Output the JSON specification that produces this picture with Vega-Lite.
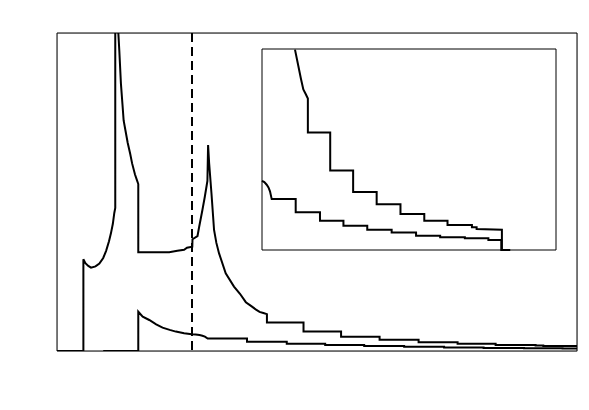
{
  "$schema": "https://vega.github.io/schema/vega-lite/v6.json",
  "autosize": {"type": "none"},
  "padding": {"left": 57, "top": 33, "right": 12, "bottom": 59},
  "width": 520,
  "height": 318,
  "data": {"values": [
      {"s": "a", "i": 1, "E": -14, "D": 0},
      {"s": "a", "i": 2, "E": -11.26, "D": 0},
      {"s": "a", "i": 3, "E": -11.26, "D": 0.0577},
      {"s": "a", "i": 4, "E": -11.05, "D": 0.0552},
      {"s": "a", "i": 5, "E": -10.75, "D": 0.0535},
      {"s": "a", "i": 6, "E": -10.47, "D": 0.0524},
      {"s": "a", "i": 7, "E": -10.0, "D": 0.0532},
      {"s": "a", "i": 8, "E": -9.6, "D": 0.055},
      {"s": "a", "i": 9, "E": -9.2, "D": 0.0585},
      {"s": "a", "i": 10, "E": -8.9, "D": 0.063},
      {"s": "a", "i": 11, "E": -8.6, "D": 0.069},
      {"s": "a", "i": 12, "E": -8.4, "D": 0.074},
      {"s": "a", "i": 13, "E": -8.2, "D": 0.08},
      {"s": "a", "i": 14, "E": -8.05, "D": 0.0868},
      {"s": "a", "i": 15, "E": -7.95, "D": 0.09},
      {"s": "a", "i": 16, "E": -7.95, "D": 0.5},
      {"s": "a", "i": 17, "E": -7.75, "D": 0.3},
      {"s": "a", "i": 18, "E": -7.63, "D": 0.2},
      {"s": "a", "i": 19, "E": -7.53, "D": 0.189},
      {"s": "a", "i": 20, "E": -7.36, "D": 0.168},
      {"s": "a", "i": 21, "E": -7.2, "D": 0.155},
      {"s": "a", "i": 22, "E": -7.08, "D": 0.145},
      {"s": "a", "i": 23, "E": -6.9, "D": 0.139},
      {"s": "a", "i": 24, "E": -6.66, "D": 0.131},
      {"s": "a", "i": 25, "E": -6.4, "D": 0.124},
      {"s": "a", "i": 26, "E": -6.2, "D": 0.118},
      {"s": "a", "i": 27, "E": -5.9, "D": 0.111},
      {"s": "a", "i": 28, "E": -5.7, "D": 0.1075},
      {"s": "a", "i": 29, "E": -5.56, "D": 0.105},
      {"s": "a", "i": 30, "E": -5.56, "D": 0.0621},
      {"s": "a", "i": 31, "E": -2.35, "D": 0.0621},
      {"s": "a", "i": 32, "E": -1.5, "D": 0.063},
      {"s": "a", "i": 33, "E": -0.8, "D": 0.0637},
      {"s": "a", "i": 34, "E": -0.5, "D": 0.065},
      {"s": "a", "i": 35, "E": 0.05, "D": 0.0656},
      {"s": "a", "i": 36, "E": 0.07, "D": 0.0703},
      {"s": "a", "i": 37, "E": 0.59, "D": 0.0723},
      {"s": "a", "i": 38, "E": 0.76, "D": 0.078},
      {"s": "a", "i": 39, "E": 1.1, "D": 0.0887},
      {"s": "a", "i": 40, "E": 1.35, "D": 0.097},
      {"s": "a", "i": 41, "E": 1.55, "D": 0.1044},
      {"s": "a", "i": 42, "E": 1.62, "D": 0.107},
      {"s": "a", "i": 43, "E": 1.69, "D": 0.1296},
      {"s": "a", "i": 44, "E": 1.8, "D": 0.118},
      {"s": "a", "i": 45, "E": 2.04, "D": 0.0992},
      {"s": "a", "i": 46, "E": 2.31, "D": 0.0761},
      {"s": "a", "i": 47, "E": 2.55, "D": 0.068},
      {"s": "a", "i": 48, "E": 2.83, "D": 0.0614},
      {"s": "a", "i": 49, "E": 3.52, "D": 0.0489},
      {"s": "a", "i": 50, "E": 4.38, "D": 0.0405},
      {"s": "a", "i": 51, "E": 5.0, "D": 0.036},
      {"s": "a", "i": 52, "E": 5.61, "D": 0.0307},
      {"s": "a", "i": 53, "E": 6.18, "D": 0.0282},
      {"s": "a", "i": 54, "E": 6.63, "D": 0.0262},
      {"s": "a", "i": 55, "E": 7.03, "D": 0.0246},
      {"s": "a", "i": 56, "E": 7.43, "D": 0.0239},
      {"s": "a", "i": 57, "E": 7.8, "D": 0.0232},
      {"s": "a", "i": 58, "E": 7.8, "D": 0.018},
      {"s": "a", "i": 59, "E": 11.6, "D": 0.018},
      {"s": "a", "i": 60, "E": 11.6, "D": 0.0122},
      {"s": "a", "i": 61, "E": 15.5, "D": 0.0122},
      {"s": "a", "i": 62, "E": 15.5, "D": 0.0089},
      {"s": "a", "i": 63, "E": 19.5, "D": 0.0089},
      {"s": "a", "i": 64, "E": 19.5, "D": 0.007},
      {"s": "a", "i": 65, "E": 23.55, "D": 0.007},
      {"s": "a", "i": 66, "E": 23.55, "D": 0.0055},
      {"s": "a", "i": 67, "E": 27.6, "D": 0.0055},
      {"s": "a", "i": 68, "E": 27.6, "D": 0.0045},
      {"s": "a", "i": 69, "E": 31.55, "D": 0.0045},
      {"s": "a", "i": 70, "E": 31.55, "D": 0.00385},
      {"s": "a", "i": 71, "E": 35.7, "D": 0.00385},
      {"s": "a", "i": 72, "E": 35.7, "D": 0.0035},
      {"s": "a", "i": 73, "E": 36.5, "D": 0.0035},
      {"s": "a", "i": 74, "E": 36.5, "D": 0.0032},
      {"s": "a", "i": 75, "E": 40.8, "D": 0.0031},
      {"s": "a", "i": 76, "E": 40.8, "D": 0},
      {"s": "a", "i": 77, "E": 42.2, "D": 0},
      {"s": "b", "i": 1, "E": -9.2, "D": 0},
      {"s": "b", "i": 2, "E": -5.56, "D": 0},
      {"s": "b", "i": 3, "E": -5.56, "D": 0.0247},
      {"s": "b", "i": 4, "E": -5.1, "D": 0.0216},
      {"s": "b", "i": 5, "E": -4.42, "D": 0.0195},
      {"s": "b", "i": 6, "E": -3.7, "D": 0.0168},
      {"s": "b", "i": 7, "E": -3.04, "D": 0.0147},
      {"s": "b", "i": 8, "E": -2.3, "D": 0.0133},
      {"s": "b", "i": 9, "E": -1.66, "D": 0.0122},
      {"s": "b", "i": 10, "E": -0.8, "D": 0.0112},
      {"s": "b", "i": 11, "E": 0, "D": 0.0106},
      {"s": "b", "i": 12, "E": 0.4, "D": 0.0104},
      {"s": "b", "i": 13, "E": 0.8, "D": 0.01},
      {"s": "b", "i": 14, "E": 1.1, "D": 0.0096},
      {"s": "b", "i": 15, "E": 1.36, "D": 0.009},
      {"s": "b", "i": 16, "E": 1.65, "D": 0.0078},
      {"s": "b", "i": 17, "E": 5.73, "D": 0.0078},
      {"s": "b", "i": 18, "E": 5.73, "D": 0.0058},
      {"s": "b", "i": 19, "E": 9.86, "D": 0.0058},
      {"s": "b", "i": 20, "E": 9.86, "D": 0.0045},
      {"s": "b", "i": 21, "E": 13.85, "D": 0.0045},
      {"s": "b", "i": 22, "E": 13.85, "D": 0.0037},
      {"s": "b", "i": 23, "E": 17.9, "D": 0.0037},
      {"s": "b", "i": 24, "E": 17.9, "D": 0.0031},
      {"s": "b", "i": 25, "E": 22.05, "D": 0.0031},
      {"s": "b", "i": 26, "E": 22.05, "D": 0.0027},
      {"s": "b", "i": 27, "E": 26.2, "D": 0.0027},
      {"s": "b", "i": 28, "E": 26.2, "D": 0.0022},
      {"s": "b", "i": 29, "E": 30.3, "D": 0.0022},
      {"s": "b", "i": 30, "E": 30.3, "D": 0.00195},
      {"s": "b", "i": 31, "E": 34.5, "D": 0.00195},
      {"s": "b", "i": 32, "E": 34.5, "D": 0.0018},
      {"s": "b", "i": 33, "E": 38.5, "D": 0.0018},
      {"s": "b", "i": 34, "E": 38.5, "D": 0.00155},
      {"s": "b", "i": 35, "E": 40.7, "D": 0.00155},
      {"s": "b", "i": 36, "E": 40.7, "D": 0},
      {"s": "b", "i": 37, "E": 42.2, "D": 0}
  ]},
  "layer": [
    {
      "layer": [
        {
          "mark": {"type": "line", "color": "black", "strokeWidth": 2, "clip": true},
          "encoding": {
            "x": {"field": "E", "type": "quantitative",
              "scale": {"domain": [-14, 40], "nice": false},
              "axis": {"orient": "bottom",
                "values": [-12, -10, -8, -6, -4, -2, 0, 2, 4, 6, 8, 10, 12, 14, 16, 18, 20, 22, 24, 26, 28, 30, 32, 34, 36, 38, 40],
                "ticks": false, "domainColor": "black",
                "grid": true, "gridColor": "black", "gridOpacity": 1, "gridWidth": 1,
                "gridDash": {"condition": {"test": "datum.value % 10 !== 0", "value": [4, 310, 4, 0]}, "value": [8, 302, 8, 0]},
                "labelExpr": "datum.value % 10 === 0 ? format(datum.value, 'd') : ''",
                "labelFont": "Liberation Serif", "labelFontSize": 23, "labelColor": "black", "labelPadding": 8, "labelFlush": false,
                "title": "Energy, arb. un.", "titleFont": "Liberation Serif", "titleFontSize": 23, "titleFontWeight": "normal", "titleColor": "black",
                "titleX": 529, "titleY": 52, "titleAlign": "right", "titleBaseline": "alphabetic"}},
            "y": {"field": "D", "type": "quantitative",
              "scale": {"domain": [0, 0.2], "nice": false},
              "axis": {"orient": "left",
                "values": [0, 0.01, 0.02, 0.03, 0.04, 0.05, 0.06, 0.07, 0.08, 0.09, 0.1, 0.11, 0.12, 0.13, 0.14, 0.15, 0.16, 0.17, 0.18, 0.19, 0.2],
                "ticks": false, "domainColor": "black",
                "grid": true, "gridColor": "black", "gridOpacity": 1, "gridWidth": 1,
                "gridDash": {"condition": {"test": "round(datum.value * 100) % 5 !== 0", "value": [4, 512, 4, 0]}, "value": [8, 504, 8, 0]},
                "labelExpr": "datum.value === 0 ? '0' : (round(datum.value * 100) % 5 === 0 ? format(datum.value, '.2f') : '')",
                "labelBaseline": {"condition": {"test": "datum.value > 0.19", "value": "top"}, "value": "middle"},
                "labelFont": "Liberation Serif", "labelFontSize": 23, "labelColor": "black", "labelPadding": 7,
                "title": "DOS, arb. un.", "titleFont": "Liberation Serif", "titleFontSize": 23, "titleFontWeight": "normal", "titleColor": "black",
                "titleAngle": 0, "titleX": -38, "titleY": -12, "titleAlign": "left", "titleBaseline": "alphabetic"}},
            "detail": {"field": "s"},
            "order": {"field": "i"}
          }
        },
        {
          "mark": {"type": "rule", "color": "black", "strokeWidth": 1, "strokeDash": [9, 5]},
          "encoding": {
            "x": {"datum": 0, "type": "quantitative", "scale": {"domain": [-14, 40], "nice": false}, "axis": null}
          }
        },
        {
          "data": {"values": [{"frame": "main"}]},
          "mark": {"type": "rect", "filled": false, "stroke": "black", "strokeWidth": 1},
          "encoding": {
            "x": {"datum": -14, "type": "quantitative", "scale": {"domain": [-14, 40], "nice": false}, "axis": null},
            "x2": {"datum": 40},
            "y": {"datum": 0, "type": "quantitative", "scale": {"domain": [0, 0.2], "nice": false}, "axis": null},
            "y2": {"datum": 0.2}
          }
        }
      ]
    },
    {
      "layer": [
        {
          "transform": [{"filter": "datum.E >= 0 && datum.D <= 0.031"}],
          "mark": {"type": "line", "color": "black", "strokeWidth": 2},
          "encoding": {
            "x": {"field": "E", "type": "quantitative",
              "scale": {"domain": [0, 50], "range": [205, 499], "nice": false},
              "axis": {"orient": "bottom", "offset": -101,
                "values": [0, 1.6667, 3.3333, 5, 6.6667, 8.3333, 10, 11.6667, 13.3333, 15, 16.6667, 18.3333, 20, 21.6667, 23.3333, 25, 26.6667, 28.3333, 30, 31.6667, 33.3333, 35, 36.6667, 38.3333, 40, 41.6667, 43.3333, 45, 46.6667, 48.3333, 50],
                "ticks": false, "domainColor": "black",
                "grid": true, "gridColor": "black", "gridOpacity": 1, "gridWidth": 1,
                "gridDash": {"condition": {"test": "datum.value % 10 !== 0", "value": [3, 195, 3, 0]}, "value": [6, 189, 6, 0]},
                "labelExpr": "datum.value % 10 === 0 ? format(datum.value, 'd') : ''",
                "labelFont": "Liberation Serif", "labelFontSize": 20, "labelColor": "black", "labelPadding": 1, "labelFlush": false, "title": null}},
            "y": {"field": "D", "type": "quantitative",
              "scale": {"domain": [0, 0.0308], "range": [217, 16], "nice": false},
              "axis": {"orient": "left", "offset": -205,
                "values": [0.001, 0.002, 0.003, 0.004, 0.005, 0.006, 0.007, 0.008, 0.009, 0.01, 0.011, 0.012, 0.013, 0.014, 0.015, 0.016, 0.017, 0.018, 0.019, 0.02, 0.021, 0.022, 0.023, 0.024, 0.025, 0.026, 0.027, 0.028, 0.029, 0.03],
                "ticks": false, "domainColor": "black",
                "grid": true, "gridColor": "black", "gridOpacity": 1, "gridWidth": 1,
                "gridDash": {"condition": {"test": "round(datum.value * 1000) % 10 !== 0", "value": [3, 288, 3, 0]}, "value": [6, 282, 6, 0]},
                "labelExpr": "round(datum.value * 1000) % 10 === 0 ? format(datum.value, '.2f') : ''",
                "labelFont": "Liberation Serif", "labelFontSize": 20, "labelColor": "black", "labelPadding": 5, "title": null}},
            "detail": {"field": "s"},
            "order": {"field": "i"}
          }
        },
        {
          "data": {"values": [{"frame": "inset"}]},
          "mark": {"type": "rect", "filled": false, "stroke": "black", "strokeWidth": 1},
          "encoding": {
            "x": {"datum": 0, "type": "quantitative", "scale": {"domain": [0, 50], "range": [205, 499], "nice": false}, "axis": null},
            "x2": {"datum": 50},
            "y": {"datum": 0, "type": "quantitative", "scale": {"domain": [0, 0.0308], "range": [217, 16], "nice": false}, "axis": null},
            "y2": {"datum": 0.0308}
          }
        }
      ]
    }
  ],
  "resolve": {"scale": {"x": "independent", "y": "independent"}}
}
